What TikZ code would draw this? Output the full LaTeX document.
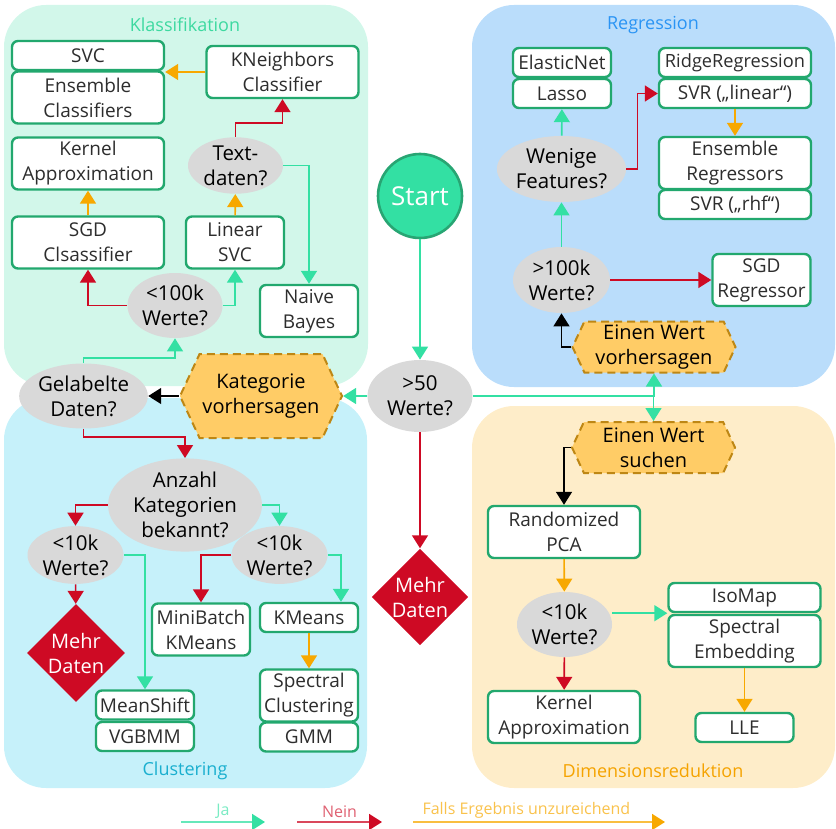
\documentclass[tikz,border=0pt]{standalone}
\usepackage{fontspec}
\setmainfont{Open Sans}
\usepackage{tikz}
\usetikzlibrary{arrows.meta,shapes.geometric,shapes.symbols,calc}
\definecolor{jagreen}{RGB}{51,224,163}
\definecolor{neinred}{RGB}{206,10,36}
\definecolor{retryorange}{RGB}{247,168,0}
\definecolor{boxgreen}{RGB}{34,168,110}
\definecolor{askgray}{RGB}{217,217,217}
\definecolor{taskfill}{RGB}{255,204,102}
\definecolor{taskline}{RGB}{190,135,20}
\definecolor{startline}{RGB}{40,165,115}
\definecolor{klassbg}{RGB}{210,247,234}
\definecolor{regrbg}{RGB}{186,221,251}
\definecolor{clusbg}{RGB}{198,241,250}
\definecolor{dimrbg}{RGB}{254,237,201}
\definecolor{klasstxt}{RGB}{61,217,160}
\definecolor{regrtxt}{RGB}{42,148,244}
\definecolor{clustxt}{RGB}{26,175,207}
\definecolor{dimrtxt}{RGB}{245,163,0}
\definecolor{textgray}{RGB}{45,45,45}
\tikzset{
  algo/.style={draw=boxgreen, fill=white, line width=1.2pt, rounded corners=3pt, inner sep=0pt, align=center, text=textgray, font=\fontsize{9.5}{12.5}\selectfont},
  lng/.style={minimum width=76pt},
  shrt/.style={minimum width=49pt},
  row1/.style={minimum height=14.5pt},
  row2/.style={minimum height=26pt},
  ask/.style={ellipse, fill=askgray, inner sep=0pt, align=center, font=\fontsize{10.25}{12.5}\selectfont},
  task/.style={signal, signal to=east and west, signal pointer angle=130, fill=taskfill, draw=taskline, line width=1pt, dash pattern=on 4pt off 2.5pt, inner sep=0pt, align=center, font=\fontsize{10}{12.5}\selectfont},
  halt/.style={diamond, fill=neinred, text=white, inner sep=0pt, align=center, font=\fontsize{10}{12.5}\selectfont},
  area/.style={rounded corners=21pt},
  ttl/.style={font=\fontsize{9}{11}\selectfont},
  flow/.style={line width=0.8pt, -{Triangle[length=6.5pt,width=8pt]}},
  ja/.style={flow, draw=jagreen},
  nein/.style={flow, draw=neinred},
  retry/.style={flow, draw=retryorange},
  blk/.style={flow, draw=black},
  key/.style={line width=0.9pt},
  keylbl/.style={above, inner sep=1.5pt, font=\fontsize{8}{10}\selectfont},
}

\begin{document}
\begin{tikzpicture}[x=0.5pt, y=-0.5pt]
  \useasboundingbox (0,0) rectangle (836,829);
  \fill[klassbg, area] (4,5) rectangle (368,386);
  \fill[regrbg, area] (472,5) rectangle (835,387);
  \fill[clusbg, area] (4,398) rectangle (367,788);
  \fill[dimrbg, area] (472,406) rectangle (835,788);
  \node[ttl, text=klasstxt] (tklass) at (185,25) {Klassifikation};
  \node[ttl, text=regrtxt] (tregr) at (653,25) {Regression};
  \node[ttl, text=clustxt] (tclus) at (185,771) {Clustering};
  \node[ttl, text=dimrtxt] (tdimr) at (653,771) {Dimensionsreduktion};

  \node[circle, fill=jagreen, draw=startline, line width=1.3pt, minimum size=42pt, inner sep=0pt, text=white, font=\fontsize{13}{15}\selectfont] (start) at (420,196) {Start};
  \node[ask, minimum width=52.5pt, minimum height=36pt] (w50) at (420,396) {>50\\Werte?};
  \node[halt, minimum width=47pt, minimum height=47pt] (mehr1) at (420,597) {Mehr\\Daten};
  \node[task, minimum width=81pt, minimum height=42pt] (kat) at (261,396) {Kategorie\\vorhersagen};
  \node[task, minimum width=81.5pt, minimum height=25.5pt] (evor) at (654,347) {Einen Wert\\vorhersagen};
  \node[task, minimum width=81.5pt, minimum height=25.5pt] (esuch) at (653.5,447.5) {Einen Wert\\suchen};

  \node[algo, lng, row1] (svc) at (88,55.5) {SVC};
  \node[algo, lng, row2] (ens) at (88,97.5) {Ensemble\\Classifiers};
  \node[algo, lng, row2] (knb) at (282.5,72) {KNeighbors\\Classifier};
  \node[algo, lng, row2] (kap) at (88,163.5) {Kernel\\Approximation};
  \node[algo, lng, row2] (sgd) at (88,242.5) {SGD\\Clsassifier};
  \node[algo, shrt, row2] (lsvc) at (235,242.5) {Linear\\SVC};
  \node[algo, shrt, row2] (nb) at (309,311) {Naive\\Bayes};
  \node[ask, minimum width=47.5pt, minimum height=27.5pt] (txt) at (235.5,165.5) {Text-\\daten?};
  \node[ask, minimum width=47.5pt, minimum height=32.5pt] (k100) at (175,305.5) {<100k\\Werte?};

  \node[algo, shrt, row1] (elnet) at (562,62.5) {ElasticNet};
  \node[algo, shrt, row1] (lasso) at (562,93.5) {Lasso};
  \node[algo, lng, row1, font=\fontsize{9.1}{12.5}\selectfont] (ridge) at (735,62.5) {RidgeRegression};
  \node[algo, lng, row1] (svrl) at (735,93.5) {SVR („linear“)};
  \node[algo, lng, row2] (ensr) at (735,163) {Ensemble\\Regressors};
  \node[algo, lng, row1] (svrr) at (735,204.5) {SVR („rhf“)};
  \node[ask, minimum width=64.5pt, minimum height=33pt] (wen) at (561.5,169) {Wenige\\Features?};
  \node[ask, minimum width=48.5pt, minimum height=33pt] (k100r) at (561.5,280) {>100k\\Werte?};
  \node[algo, shrt, row2] (sgdr) at (761.5,280) {SGD\\Regressor};

  \node[ask, minimum width=63.5pt, minimum height=32.5pt] (gel) at (83.5,396) {Gelabelte\\Daten?};
  \node[ask, minimum width=77pt, minimum height=42pt] (anz) at (185,505) {Anzahl\\Kategorien\\bekannt?};
  \node[ask, minimum width=48pt, minimum height=28pt] (w10a) at (75.5,555) {<10k\\Werte?};
  \node[ask, minimum width=48pt, minimum height=28pt] (w10b) at (279.5,555) {<10k\\Werte?};
  \node[halt, minimum width=49pt, minimum height=49pt] (mehr2) at (76,653) {Mehr\\Daten};
  \node[algo, shrt, row1] (msh) at (145,705) {MeanShift};
  \node[algo, shrt, row1] (vgb) at (145,736.5) {VGBMM};
  \node[algo, shrt, row2] (mbk) at (201,629.5) {MiniBatch\\KMeans};
  \node[algo, shrt, row1] (km) at (309,617.5) {KMeans};
  \node[algo, shrt, row2] (spc) at (309,695.5) {Spectral\\Clustering};
  \node[algo, shrt, row1] (gmm) at (309,737) {GMM};

  \node[algo, lng, row2] (pca) at (564,532) {Randomized\\PCA};
  \node[ask, minimum width=47.5pt, minimum height=32.5pt] (w10c) at (564.5,624.5) {<10k\\Werte?};
  \node[algo, lng, row2] (kap2) at (564,717) {Kernel\\Approximation};
  \node[algo, lng, row1] (iso) at (744.5,597.5) {IsoMap};
  \node[algo, lng, row2] (spe) at (744.5,641) {Spectral\\Embedding};
  \node[algo, shrt, row1] (lle) at (744.5,727.5) {LLE};

  \draw[ja] (start) -- (w50);
  \draw[nein] (w50) -- (mehr1);
  \draw[ja] (w50) -- (kat);
  \draw[ja] (w50.east) -| (evor.south);
  \draw[ja] (w50.east) -| (esuch.north);
  \draw[blk] (kat) -- (gel);
  \draw[blk] (evor.west) -| (k100r.south);
  \draw[blk] (esuch.west) -| (pca.north);

  \draw[ja] (gel.north) -- ++(0,-5) -| (k100.south);
  \draw[nein] (k100.west) -| (sgd.south);
  \draw[ja] (k100.east) -| (lsvc.south);
  \draw[retry] (sgd) -- (kap);
  \draw[retry] (lsvc) -- (txt);
  \draw[nein] (txt.north) -- ++(0,-14) -| (knb.south);
  \draw[ja] (txt.east) -| (nb.north);
  \draw[retry] (knb.west) -- (knb.west -| ens.east);

  \draw[ja] (k100r) -- (wen);
  \draw[nein] (k100r) -- (sgdr);
  \draw[ja] (wen) -- (lasso);
  \draw[nein] (wen.east) -- ++(11,0) |- (svrl.west);
  \draw[retry] (svrl) -- (ensr);

  \draw[nein] (gel.south) -- ++(0,8) -| (anz.north);
  \draw[nein] (anz.west) -| (w10a.north);
  \draw[ja] (anz.east) -| (w10b.north);
  \draw[nein] (w10a) -- (mehr2);
  \draw[ja] (w10a.east) -| (msh.north);
  \draw[nein] (w10b.west) -| (mbk.north);
  \draw[ja] (w10b.east) -| ([xshift=16pt]km.north);
  \draw[retry] (km) -- (spc);

  \draw[retry] (pca) -- (w10c);
  \draw[nein] (w10c) -- (kap2);
  \draw[ja] (w10c.east |- iso.south west) -- (iso.south west);
  \draw[retry] (spe) -- (lle);

  \coordinate (jaA) at (181,822);
  \coordinate (jaB) at (265,822);
  \coordinate (neinA) at (297,822);
  \coordinate (neinB) at (382,822);
  \coordinate (retryA) at (413,822);
  \coordinate (retryB) at (665,822);
  \draw[key, draw=jagreen!75, -{Triangle[length=6.5pt,width=8pt,color=jagreen]}] (jaA) -- node[keylbl, pos=0.5, text=jagreen!65] {Ja} (jaB);
  \draw[key, draw=neinred!75, -{Triangle[length=6.5pt,width=8pt,color=neinred]}] (neinA) -- node[keylbl, pos=0.5, text=neinred!65] {Nein} (neinB);
  \draw[key, draw=retryorange!75, -{Triangle[length=6.5pt,width=8pt,color=retryorange]}] (retryA) -- node[keylbl, pos=0.45, text=retryorange!70] {Falls Ergebnis unzureichend} (retryB);
\end{tikzpicture}
\end{document}
